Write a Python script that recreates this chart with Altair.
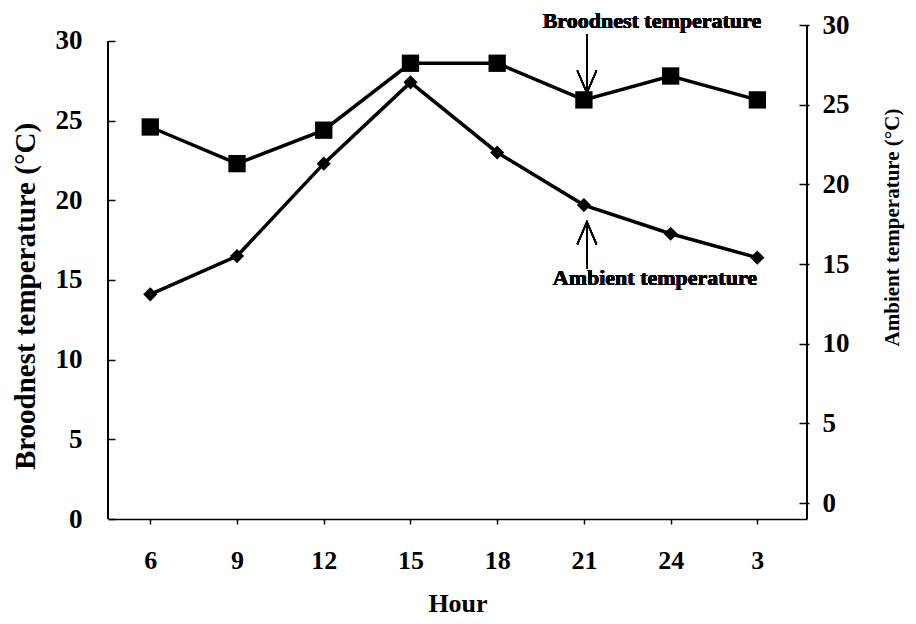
import altair as alt
import pandas as pd

# ---- data ----
hours = ["6", "9", "12", "15", "18", "21", "24", "3"]
broodnest = [24.6, 22.3, 24.4, 28.6, 28.6, 26.3, 27.8, 26.3]   # left axis
ambient = [13.1, 15.5, 21.3, 26.4, 22.0, 18.7, 16.9, 15.4]     # right axis
left_ticks = [0, 5, 10, 15, 20, 25, 30]
right_ticks = [0, 5, 10, 15, 20, 25, 30]

df = pd.DataFrame({"hour": hours, "broodnest": broodnest, "ambient": ambient})

W, H = 699, 494
FONT = "Liberation Serif"

xscale = alt.Scale(type="point", domain=hours, padding=0.53, align=0.46)
xenc = alt.X(
    "hour:N",
    scale=xscale,
    axis=alt.Axis(
        title="Hour", labelAngle=0, labelBaseline="middle", labelPadding=36,
        tickSize=5, titleY=84, titleBaseline="middle",
        labelFontSize=26, titleFontSize=26,
    ),
)

left_scale = alt.Scale(domain=[0, 31], nice=False, zero=False)
left_axis = alt.Axis(
    values=left_ticks, title="Broodnest temperature (°C)", orient="left",
    offset=-7, tickSize=7, domain=False, labelPadding=26, grid=False,
    labelFontSize=27, titleFontSize=29, titleAngle=270,
    titleX=-90, titleY=271, titleBaseline="middle",
)
right_scale = alt.Scale(domain=[-1, 30], nice=False, zero=False)
right_axis = alt.Axis(
    values=right_ticks, title="Ambient temperature (°C)", orient="right",
    offset=-8, tickSize=10, domain=False, labelPadding=13, grid=False,
    labelFontSize=27, titleFontSize=21, titleAngle=270,
    titleX=93, titleY=202, titleBaseline="middle",
)

yleft = alt.Y("broodnest:Q", scale=left_scale, axis=left_axis)
yright = alt.Y("ambient:Q", scale=right_scale, axis=right_axis)

base = alt.Chart(df)

def xd(v):
    return alt.XDatum(v, type="nominal", scale=xscale)

def ydl(v):
    return alt.YDatum(v, type="quantitative", scale=left_scale, axis=left_axis)

def ydr(v):
    return alt.YDatum(v, type="quantitative", scale=right_scale, axis=right_axis)

# left-scale layers
l_line = base.mark_line(color="black", strokeWidth=3.5).encode(x=xenc, y=yleft)
l_pts = base.mark_point(shape="square", filled=True, size=300, color="black", opacity=1).encode(x=xenc, y=yleft)
l_rule = base.mark_rule(color="black", strokeWidth=1.5).encode(
    x=alt.value(0), y=ydl(0), y2=alt.Y2Datum(30)
)
brood_txt = base.mark_text(
    text="Broodnest temperature", font=FONT, fontSize=22, fontWeight="bold",
    align="center", baseline="middle", dx=68, color="black",
).encode(x=xd("21"), y=ydl(31.26))
brood_shaft = base.mark_rule(color="black", strokeWidth=1.5, xOffset=3).encode(
    x=xd("21"), y=ydl(30.4), y2=alt.Y2Datum(26.8)
)
brood_head = base.mark_point(
    shape="M-1.2,-2.8L0,0L1.2,-2.8", size=256, filled=False, strokeWidth=1.5,
    color="black", opacity=1, xOffset=3,
).encode(x=xd("21"), y=ydl(26.74))
amb_txt = base.mark_text(
    text="Ambient temperature", font=FONT, fontSize=22, fontWeight="bold",
    align="center", baseline="middle", dx=71, color="black",
).encode(x=xd("21"), y=ydl(15.13))
amb_shaft = base.mark_rule(color="black", strokeWidth=1.5, xOffset=3).encode(
    x=xd("21"), y=ydl(15.7), y2=alt.Y2Datum(18.6)
)
amb_head = base.mark_point(
    shape="M-1.2,2.8L0,0L1.2,2.8", size=256, filled=False, strokeWidth=1.5,
    color="black", opacity=1, xOffset=3,
).encode(x=xd("21"), y=ydl(18.64))

left = alt.layer(l_line, l_pts, l_rule, brood_txt, brood_shaft, brood_head,
                 amb_txt, amb_shaft, amb_head)

# right-scale layers
r_line = base.mark_line(color="black", strokeWidth=3.5).encode(x=xenc, y=yright)
r_pts = base.mark_point(shape="diamond", filled=True, size=200, color="black", opacity=1).encode(x=xenc, y=yright)
r_rule = base.mark_rule(color="black", strokeWidth=1.5).encode(
    x=alt.value(W), y=ydr(-1), y2=alt.Y2Datum(30)
)
right = alt.layer(r_line, r_pts, r_rule)

chart = (
    alt.layer(left, right)
    .resolve_scale(y="independent")
    .properties(
        width=W, height=H,
        autosize=alt.AutoSizeParams(type="none"),
        padding={"left": 100, "top": 17, "right": 100, "bottom": 100},
        background="white",
    )
    .configure_view(stroke=None)
    .configure_axis(
        labelFont=FONT, titleFont=FONT, labelFontWeight="bold", titleFontWeight="bold",
        labelColor="black", titleColor="black", domainColor="black", tickColor="black",
        domainWidth=1.5, tickWidth=1.5, grid=False,
    )
)

chart.save("out.html", embed_options={"renderer": "svg", "actions": False})
